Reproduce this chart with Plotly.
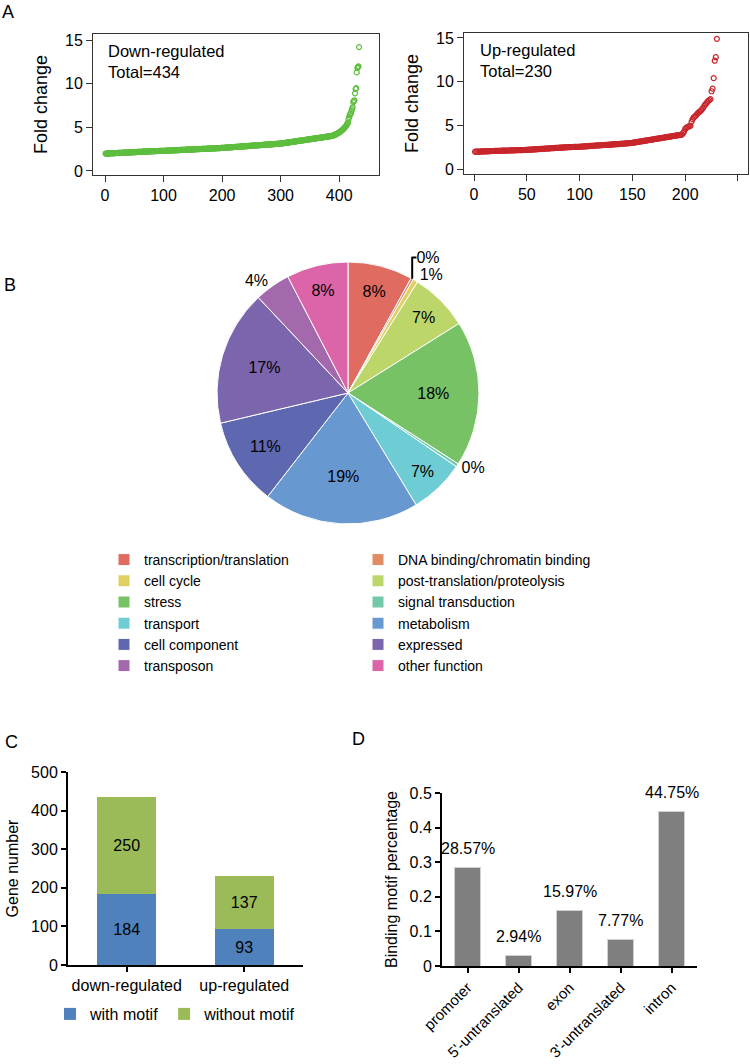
import plotly.graph_objects as go

W, H = 750, 1064
def px(x):
    return x / W
def py(y):
    return 1 - y / H

FONT = "Liberation Sans, Arial, sans-serif"

# ---------------- Panel A data (fold change, sorted) ----------------
down_total = 434
down_fc = [
    2.00, 2.00, 2.00, 2.01, 2.01, 2.01, 2.02, 2.02, 2.02, 2.03, 2.03, 2.03, 2.04, 2.04, 2.04, 2.05, 2.05, 2.05, 2.06, 2.06,
    2.06, 2.07, 2.07, 2.07, 2.08, 2.08, 2.08, 2.09, 2.09, 2.09, 2.10, 2.10, 2.10, 2.11, 2.11, 2.11, 2.12, 2.12, 2.12, 2.13,
    2.13, 2.13, 2.14, 2.14, 2.14, 2.15, 2.15, 2.15, 2.16, 2.16, 2.16, 2.17, 2.17, 2.17, 2.18, 2.18, 2.18, 2.19, 2.19, 2.19,
    2.20, 2.20, 2.20, 2.21, 2.21, 2.21, 2.22, 2.22, 2.22, 2.23, 2.23, 2.23, 2.24, 2.24, 2.24, 2.25, 2.25, 2.25, 2.26, 2.26,
    2.26, 2.27, 2.27, 2.27, 2.28, 2.28, 2.28, 2.28, 2.29, 2.29, 2.29, 2.29, 2.30, 2.30, 2.30, 2.30, 2.31, 2.31, 2.31, 2.31,
    2.32, 2.32, 2.32, 2.33, 2.33, 2.33, 2.34, 2.34, 2.34, 2.35, 2.35, 2.35, 2.35, 2.36, 2.36, 2.36, 2.37, 2.37, 2.37, 2.38,
    2.38, 2.38, 2.39, 2.39, 2.39, 2.40, 2.40, 2.40, 2.41, 2.41, 2.41, 2.42, 2.42, 2.42, 2.43, 2.43, 2.43, 2.44, 2.44, 2.44,
    2.45, 2.45, 2.45, 2.46, 2.46, 2.46, 2.47, 2.47, 2.47, 2.48, 2.48, 2.48, 2.49, 2.49, 2.49, 2.50, 2.50, 2.50, 2.51, 2.51,
    2.51, 2.52, 2.52, 2.52, 2.53, 2.53, 2.53, 2.54, 2.54, 2.54, 2.55, 2.55, 2.55, 2.56, 2.56, 2.56, 2.57, 2.57, 2.57, 2.58,
    2.58, 2.58, 2.59, 2.59, 2.59, 2.60, 2.60, 2.60, 2.61, 2.61, 2.61, 2.62, 2.62, 2.62, 2.63, 2.63, 2.63, 2.64, 2.64, 2.64,
    2.65, 2.65, 2.66, 2.66, 2.67, 2.67, 2.68, 2.68, 2.69, 2.69, 2.70, 2.70, 2.71, 2.71, 2.72, 2.72, 2.73, 2.73, 2.74, 2.74,
    2.75, 2.75, 2.76, 2.76, 2.77, 2.77, 2.78, 2.78, 2.79, 2.79, 2.80, 2.80, 2.81, 2.81, 2.82, 2.82, 2.83, 2.83, 2.84, 2.84,
    2.85, 2.85, 2.86, 2.86, 2.87, 2.87, 2.88, 2.88, 2.89, 2.89, 2.90, 2.90, 2.91, 2.91, 2.92, 2.92, 2.93, 2.93, 2.94, 2.94,
    2.95, 2.95, 2.96, 2.96, 2.97, 2.97, 2.98, 2.98, 2.99, 2.99, 3.00, 3.00, 3.01, 3.01, 3.02, 3.02, 3.03, 3.03, 3.04, 3.04,
    3.05, 3.05, 3.06, 3.06, 3.07, 3.07, 3.08, 3.08, 3.09, 3.09, 3.10, 3.10, 3.11, 3.11, 3.12, 3.12, 3.13, 3.13, 3.14, 3.14,
    3.15, 3.16, 3.17, 3.18, 3.19, 3.20, 3.21, 3.22, 3.23, 3.24, 3.25, 3.26, 3.27, 3.28, 3.29, 3.30, 3.31, 3.32, 3.33, 3.34,
    3.35, 3.36, 3.37, 3.38, 3.39, 3.40, 3.41, 3.42, 3.43, 3.44, 3.45, 3.46, 3.47, 3.48, 3.49, 3.50, 3.51, 3.52, 3.53, 3.54,
    3.55, 3.56, 3.57, 3.58, 3.59, 3.60, 3.61, 3.62, 3.63, 3.64, 3.65, 3.66, 3.67, 3.68, 3.69, 3.70, 3.71, 3.72, 3.73, 3.74,
    3.75, 3.76, 3.77, 3.78, 3.79, 3.80, 3.81, 3.82, 3.83, 3.84, 3.85, 3.86, 3.87, 3.88, 3.89, 3.90, 3.91, 3.92, 3.93, 3.94,
    3.95, 3.96, 3.97, 3.98, 3.99, 4.00, 4.02, 4.04, 4.06, 4.08, 4.10, 4.13, 4.16, 4.19, 4.22, 4.26, 4.30, 4.34, 4.38, 4.42,
    4.47, 4.52, 4.57, 4.62, 4.68, 4.74, 4.80, 4.87, 4.94, 5.02, 5.10, 5.20, 5.30, 5.42, 5.55, 5.90, 6.20, 6.40, 6.50, 6.60,
    6.90, 7.10, 7.30, 7.90, 8.00, 8.10, 8.90, 9.40, 9.50, 11.30, 11.80, 11.90, 12.00, 14.20,
]

up_total = 230
up_fc = [
    1.98, 1.98, 1.99, 1.99, 2.00, 2.00, 2.01, 2.01, 2.02, 2.02, 2.03, 2.03, 2.04, 2.04, 2.05, 2.05, 2.06, 2.06, 2.06, 2.07,
    2.07, 2.08, 2.08, 2.09, 2.09, 2.10, 2.10, 2.10, 2.11, 2.11, 2.12, 2.12, 2.12, 2.13, 2.13, 2.14, 2.14, 2.14, 2.15, 2.15,
    2.16, 2.16, 2.16, 2.17, 2.17, 2.17, 2.18, 2.18, 2.19, 2.19, 2.20, 2.21, 2.22, 2.23, 2.23, 2.24, 2.25, 2.26, 2.27, 2.27,
    2.28, 2.29, 2.30, 2.31, 2.31, 2.32, 2.33, 2.34, 2.35, 2.35, 2.36, 2.37, 2.38, 2.39, 2.39, 2.40, 2.41, 2.42, 2.43, 2.43,
    2.44, 2.45, 2.46, 2.46, 2.47, 2.48, 2.48, 2.49, 2.50, 2.50, 2.51, 2.51, 2.52, 2.52, 2.53, 2.53, 2.54, 2.54, 2.55, 2.55,
    2.56, 2.57, 2.58, 2.59, 2.60, 2.60, 2.61, 2.62, 2.63, 2.64, 2.65, 2.65, 2.66, 2.67, 2.68, 2.69, 2.70, 2.70, 2.71, 2.72,
    2.73, 2.74, 2.75, 2.75, 2.76, 2.77, 2.78, 2.79, 2.80, 2.80, 2.81, 2.82, 2.83, 2.84, 2.85, 2.85, 2.86, 2.87, 2.88, 2.89,
    2.90, 2.91, 2.92, 2.93, 2.94, 2.95, 2.96, 2.97, 2.98, 3.00, 3.02, 3.04, 3.06, 3.08, 3.10, 3.12, 3.14, 3.16, 3.18, 3.20,
    3.22, 3.24, 3.26, 3.28, 3.30, 3.32, 3.34, 3.36, 3.38, 3.40, 3.42, 3.44, 3.46, 3.48, 3.50, 3.52, 3.54, 3.56, 3.58, 3.60,
    3.62, 3.64, 3.66, 3.68, 3.70, 3.72, 3.74, 3.76, 3.78, 3.80, 3.82, 3.84, 3.86, 3.88, 3.90, 3.92, 3.95, 4.10, 4.30, 4.60,
    4.70, 4.80, 4.85, 4.90, 4.95, 5.40, 5.70, 5.90, 6.00, 6.10, 6.25, 6.40, 6.50, 6.60, 6.70, 6.85, 7.00, 7.20, 7.40, 7.50,
    7.70, 7.80, 7.90, 8.00, 8.90, 9.20, 10.40, 12.40, 12.80, 14.90,
]

# ---------------- Panel B data (functional categories, %) ----------------
pie_labels = [
    "transcription/translation", "DNA binding/chromatin binding", "cell cycle",
    "post-translation/proteolysis", "stress", "signal transduction", "transport",
    "metabolism", "cell component", "expressed", "transposon", "other function",
]
pie_values = [8.0, 0.3, 0.6, 7.2, 18.0, 0.4, 6.8, 19.2, 10.8, 16.7, 4.4, 7.6]
pie_colors = [
    "#E06B60", "#E08C62", "#E0D062", "#BDD66A", "#78C266", "#74C9A8",
    "#6ECCD4", "#6898D0", "#5E68B0", "#7B65AC", "#A468AC", "#DC64A8",
]
pie_textpos = ["inside", "outside", "outside", "inside", "inside", "outside",
               "inside", "inside", "inside", "inside", "outside", "inside"]

# ---------------- Panel C data ----------------
motif_groups = ["down-regulated", "up-regulated"]
with_motif = [184, 93]
without_motif = [250, 137]

# ---------------- Panel D data ----------------
regions = ["promoter", "5'-untranslated", "exon", "3'-untranslated", "intron"]
region_pct = [0.2857, 0.0294, 0.1597, 0.0777, 0.4475]

fig = go.Figure()

# Panel A
fig.add_trace(go.Scatter(
    x=list(range(1, len(down_fc) + 1)), y=down_fc, mode="markers",
    marker=dict(symbol="circle-open", size=5, color="#5EBE3F", line=dict(width=1.2)),
    xaxis="x", yaxis="y", showlegend=False, name="Down-regulated"))
fig.add_trace(go.Scatter(
    x=list(range(1, len(up_fc) + 1)), y=up_fc, mode="markers",
    marker=dict(symbol="circle-open", size=5, color="#C8262C", line=dict(width=1.2)),
    xaxis="x2", yaxis="y2", showlegend=False, name="Up-regulated"))

# Panel B
fig.add_trace(go.Pie(
    labels=pie_labels, values=pie_values, sort=False, direction="clockwise", rotation=0,
    marker=dict(colors=pie_colors, line=dict(color="white", width=1)),
    texttemplate="%{percent:.0%}", textposition=pie_textpos,
    insidetextorientation="horizontal", automargin=False,
    textfont=dict(size=16, color="black", family=FONT),
    domain=dict(x=[px(217), px(479)], y=[py(524), py(262)]),
    legend="legend", showlegend=True))

# Panel C
fig.add_trace(go.Bar(
    x=motif_groups, y=with_motif, name="with motif", marker=dict(color="#4F81BD"),
    text=with_motif, textposition="inside", insidetextanchor="middle", textangle=0,
    textfont=dict(size=16, color="black"), width=0.5,
    xaxis="x3", yaxis="y3", legend="legend2"))
fig.add_trace(go.Bar(
    x=motif_groups, y=without_motif, name="without motif", marker=dict(color="#9BBB59"),
    text=without_motif, textposition="inside", insidetextanchor="middle", textangle=0,
    textfont=dict(size=16, color="black"), width=0.5,
    xaxis="x3", yaxis="y3", legend="legend2"))

# Panel D
fig.add_trace(go.Bar(
    x=regions, y=region_pct, marker=dict(color="#7F7F7F", line=dict(color="#D0D0D0", width=1)),
    width=0.5, xaxis="x4", yaxis="y4", showlegend=False))
for r, v in zip(regions, region_pct):
    fig.add_annotation(x=r, y=v, xref="x4", yref="y4", text=f"{v*100:.2f}%",
                       showarrow=False, yshift=19, font=dict(size=16, color="black"))

boxaxis = dict(showline=True, mirror=True, linecolor="#333333", linewidth=1,
               ticks="outside", ticklen=6, tickcolor="#333333", showgrid=False,
               zeroline=False, automargin=False, tickfont=dict(size=16, color="black"))
baraxis = dict(showline=True, linecolor="black", linewidth=2, ticks="outside",
               ticklen=5, tickwidth=2, tickcolor="black", showgrid=False,
               zeroline=False, automargin=False, tickfont=dict(size=16, color="black"))

fig.update_layout(
    template="none",
    width=W, height=H, margin=dict(l=0, r=0, t=0, b=0, autoexpand=False),
    paper_bgcolor="white", plot_bgcolor="white",
    font=dict(family=FONT, color="black", size=16),
    barmode="stack", bargap=0.5,
    xaxis=dict(domain=[px(93), px(379)], range=[-20.5, 468], dtick=100, tick0=0,
               anchor="y", **boxaxis),
    yaxis=dict(domain=[py(175), py(34)], range=[-0.46, 15.7], dtick=5, anchor="x",
               title=dict(text="Fold change", font=dict(size=18), standoff=12), **boxaxis),
    xaxis2=dict(domain=[px(464), px(748)], range=[-9.5, 259.5], dtick=50, tick0=0,
                anchor="y2", **boxaxis),
    yaxis2=dict(domain=[py(174), py(33)], range=[-0.57, 15.57], dtick=5, anchor="x2",
                title=dict(text="Fold change", font=dict(size=18), standoff=12), **boxaxis),
    xaxis3=dict(domain=[px(68), px(303)], range=[-0.5, 1.5], type="category",
                anchor="y3", **baraxis),
    yaxis3=dict(domain=[py(965), py(772)], range=[0, 500], dtick=100, anchor="x3",
                title=dict(text="Gene number", font=dict(size=16), standoff=8), **baraxis),
    xaxis4=dict(domain=[px(442), px(697)], range=[-0.5, 4.5], type="category",
                tickangle=-45, anchor="y4",
                **{**baraxis, "tickfont": dict(size=15, color="black")}),
    yaxis4=dict(domain=[py(966), py(793)], range=[0, 0.5], dtick=0.1, anchor="x4",
                title=dict(text="Binding motif percentage", font=dict(size=16), standoff=8),
                **baraxis),
    legend=dict(orientation="h", x=px(104), xanchor="left", y=py(544), yanchor="top",
                entrywidth=209, traceorder="normal",
                font=dict(size=14, color="black"), bgcolor="rgba(0,0,0,0)"),
    legend2=dict(orientation="h", x=px(50), xanchor="left", y=py(997), yanchor="top",
                 traceorder="normal",
                 font=dict(size=16, color="black"), bgcolor="rgba(0,0,0,0)"),
)

# Panel-A inset text
fig.add_annotation(xref="x domain", yref="y domain", x=0.045, y=0.955, xanchor="left",
                   yanchor="top", showarrow=False, align="left",
                   text=f"Down-regulated<br>Total={down_total}", font=dict(size=16.5))
fig.add_annotation(xref="x2 domain", yref="y2 domain", x=0.05, y=0.96, xanchor="left",
                   yanchor="top", showarrow=False, align="left",
                   text=f"Up-regulated<br>Total={up_total}", font=dict(size=16.5))

# Panel letters
for letter, lx, ly in [("A", 0, 0), ("B", 2, 273), ("C", 3, 730), ("D", 350, 727)]:
    fig.add_annotation(xref="paper", yref="paper", x=px(lx), y=py(ly), xanchor="left",
                       yanchor="top", showarrow=False, text=letter, font=dict(size=18))

fig.write_html("out.html", config={"displayModeBar": False},
               post_script="document.body.style.margin='0';document.body.style.overflow='hidden';")
